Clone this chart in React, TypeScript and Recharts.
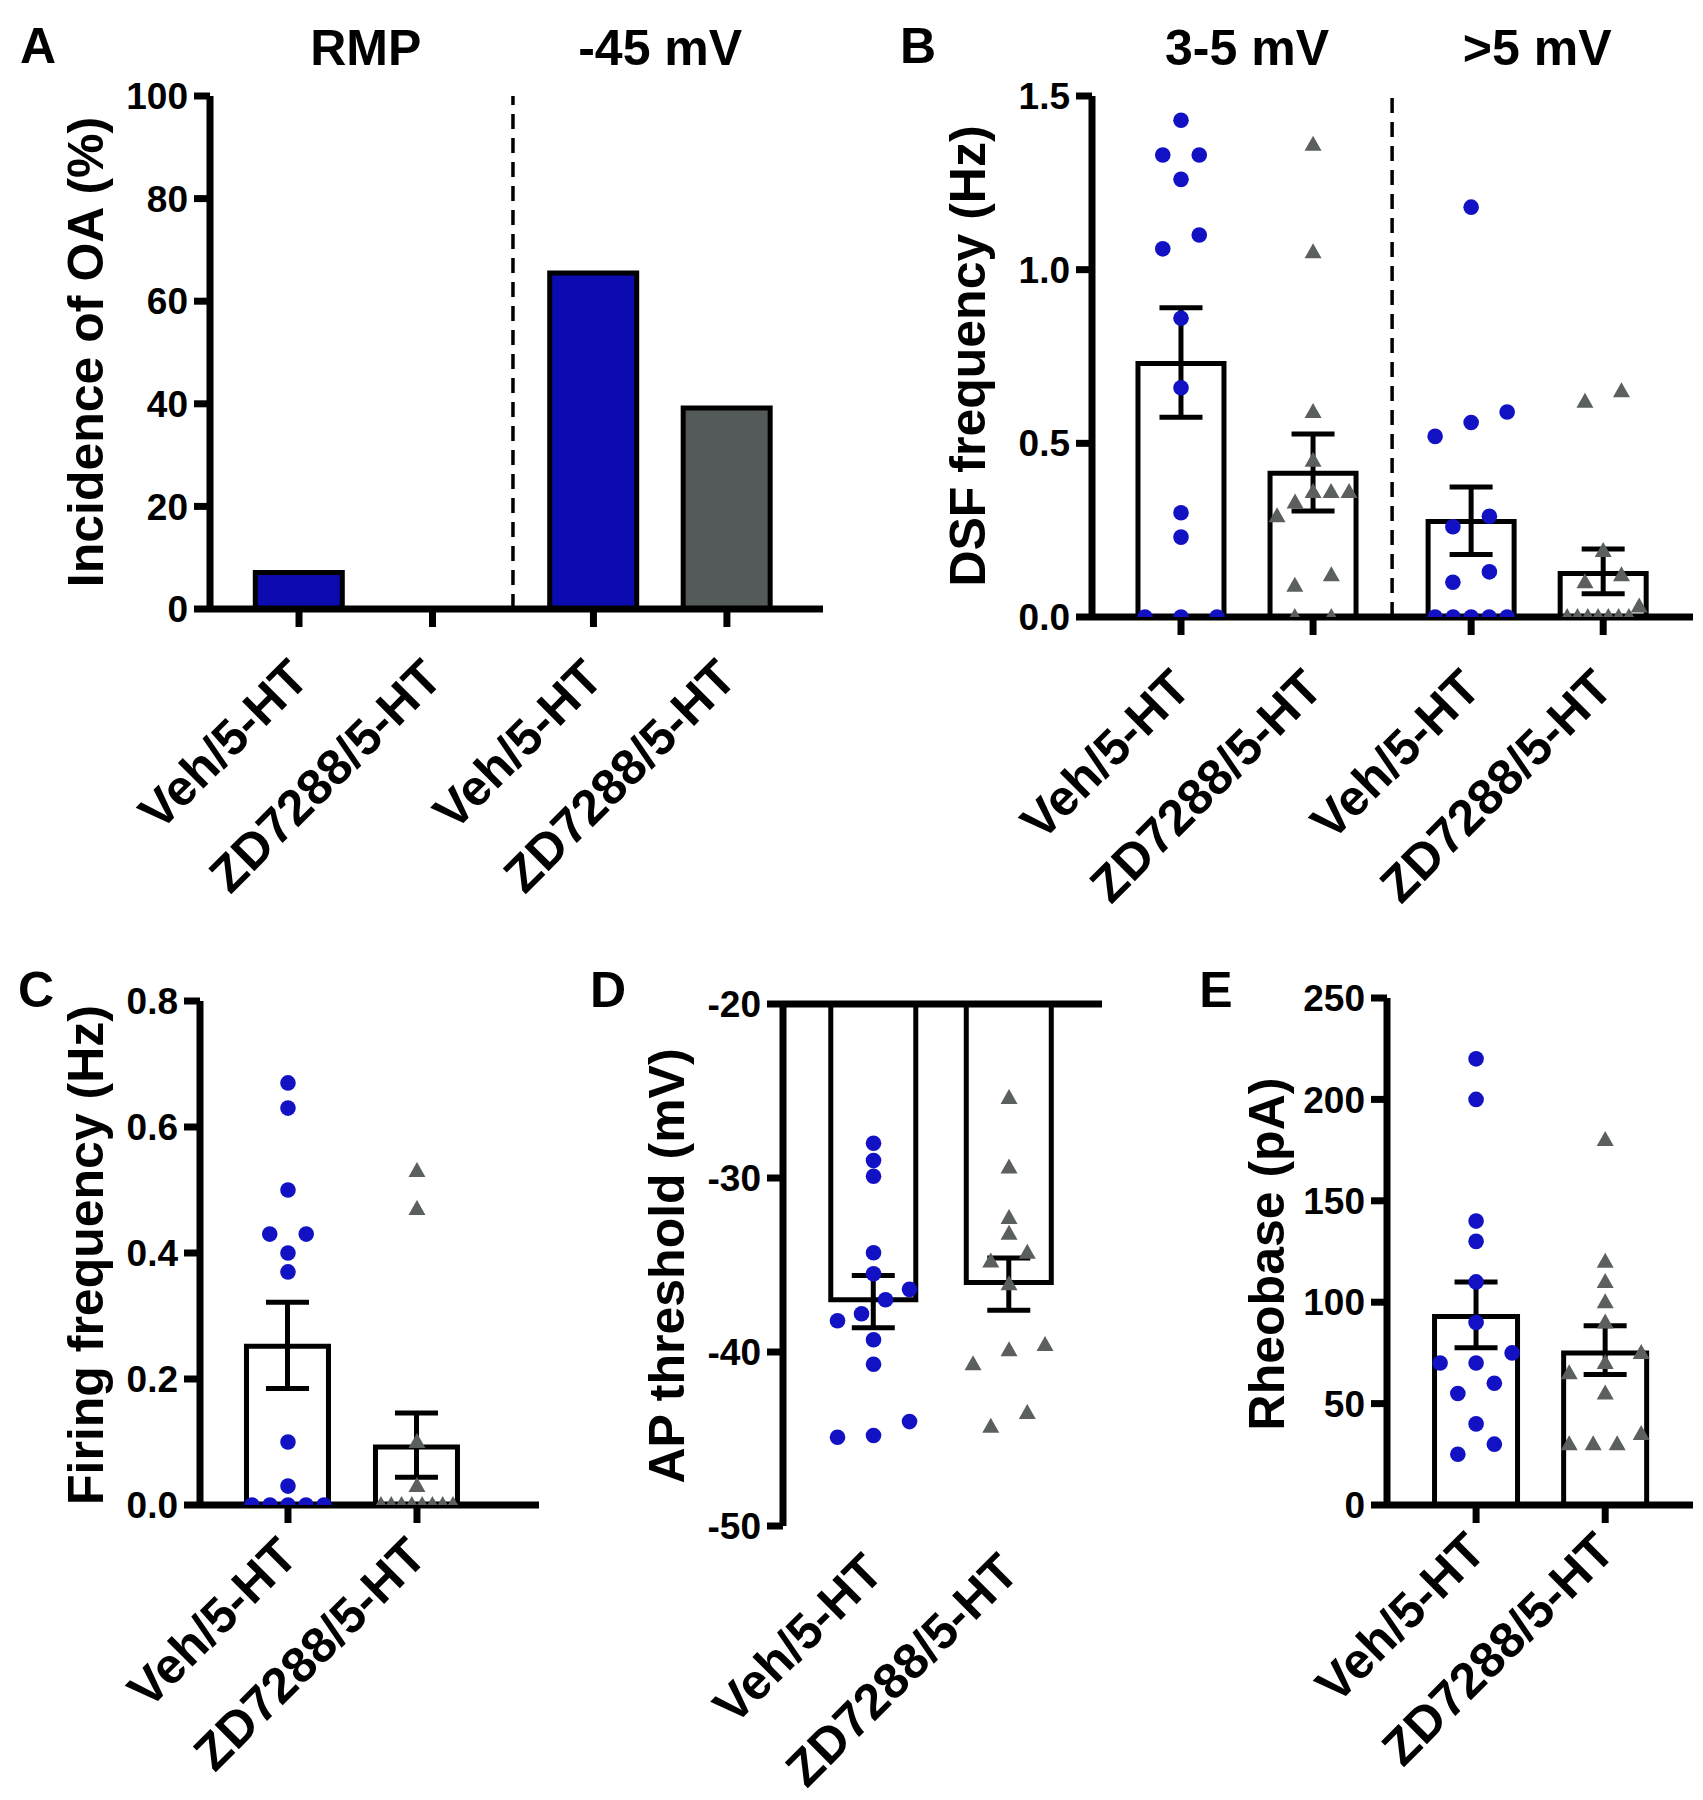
import React from 'react';
import { ComposedChart, Bar, Scatter, XAxis, YAxis, ErrorBar, ReferenceLine, Cell } from 'recharts';

// ---------------- data ----------------
const twoGroupLabels = ['Veh/5-HT', 'ZD7288/5-HT', 'Veh/5-HT', 'ZD7288/5-HT'];
const pairLabels = ['Veh/5-HT', 'ZD7288/5-HT'];
const fourGroupOf = [0, 0, 1, 1];
const pairGroupOf = [0, 0];

// Panel A
const aGroupTitles = ['RMP', '-45 mV'];
const aIncidence = [7.1, 0, 65.5, 39.2];

// Panel B
const bGroupTitles = ['3-5 mV', '>5 mV'];
const bMean = [0.73, 0.414, 0.275, 0.125];
const bErrLow = [0.575, 0.305, 0.18, 0.067];
const bErrHigh = [0.89, 0.527, 0.374, 0.196];
const bVeh35 = [1.43, 1.33, 1.33, 1.26, 1.1, 1.06, 0.86, 0.66, 0.3, 0.23, 0, 0, 0];
const bZd35 = [1.36, 1.05, 0.59, 0.45, 0.36, 0.36, 0.36, 0.33, 0.29, 0.12, 0.09, 0, 0];
const bVeh5 = [1.18, 0.59, 0.56, 0.52, 0.29, 0.26, 0.13, 0.1, 0, 0, 0, 0, 0];
const bZd5 = [0.65, 0.62, 0.19, 0.12, 0.1, 0.03, 0, 0, 0, 0, 0, 0, 0];

// Panel C
const cMean = [0.252, 0.092];
const cErrLow = [0.185, 0.044];
const cErrHigh = [0.322, 0.146];
const cVeh = [0.67, 0.63, 0.5, 0.43, 0.43, 0.4, 0.37, 0.1, 0.03, 0, 0, 0, 0, 0];
const cZd = [0.53, 0.47, 0.1, 0.03, 0, 0, 0, 0, 0, 0, 0, 0];

// Panel D
const dMean = [-37.0, -36.0];
const dErrLow = [-38.6, -37.6];
const dErrHigh = [-35.6, -34.6];
const dVeh = [-28.0, -29.0, -29.9, -34.3, -35.5, -36.4, -37.0, -37.8, -38.2, -39.3, -40.7, -44.0, -44.9, -44.8];
const dZd = [-25.4, -29.4, -32.3, -33.2, -34.3, -34.8, -36.1, -39.6, -39.9, -40.7, -43.5, -44.3];

// Panel E
const eMean = [93, 75];
const eErrLow = [77.6, 64.3];
const eErrHigh = [110, 88.4];
const eVeh = [220, 200, 140, 130, 110, 90, 75, 70, 70, 60, 55, 40, 30, 25];
const eZd = [180, 120, 110, 100, 90, 75, 70, 65, 55, 35, 30, 30, 30];

// ---------------- style / layout ----------------
const FONT = '"Liberation Sans", Arial, Helvetica, sans-serif';
const BLUE_BAR = '#0b0bb0';
const GRAY_BAR = '#535a59';
const BLUE_DOT = '#1212c4';
const GRAY_TRI = '#5b605f';
const AXIS = { stroke: '#000', strokeWidth: 7 };
const YW = 110;
const MT = 30;
const MR = 8;
const XH = 300;
const TICK_FONT = 37;
const TITLE_FONT = 50;
const SWARM_STEP = 36.5;
const SWARM_SPAN = 72;
const SWARM_GAP = 14;

type Layout = {
  left: number;
  top: number;
  w: number;
  h: number;
  xDomain: [number, number];
  barSize: number;
  gap: number;
  labelDy: number;
};

const LA: Layout = { left: 210, top: 96, w: 613, h: 513, xDomain: [-0.667, 3.926], barSize: 87, gap: 0.206, labelDy: 54 };
const LB: Layout = { left: 1092, top: 96, w: 601, h: 521, xDomain: [-0.674, 3.877], barSize: 86, gap: 0.197, labelDy: 56 };
const LC: Layout = { left: 200, top: 1001, w: 339, h: 504, xDomain: [-0.682, 1.946], barSize: 82, gap: 0, labelDy: 36 };
const LD: Layout = { left: 783, top: 1004, w: 319, h: 522, xDomain: [-0.668, 1.686], barSize: 85, gap: 0, labelDy: 31 };
const LE: Layout = { left: 1387, top: 998, w: 306, h: 507, xDomain: [-0.69, 1.68], barSize: 83, gap: 0, labelDy: 31 };

const positionsOf = (groupOf: number[], gap: number) => groupOf.map((g, i) => i + g * gap);
const pxX = (L: Layout, v: number) => L.left + ((v - L.xDomain[0]) / (L.xDomain[1] - L.xDomain[0])) * L.w;

function swarmOffsets(values: number[], pxPerUnit: number): number[] {
  const order = values.map((_, i) => i).sort((a, b) => values[a] - values[b]);
  const offsets = values.map(() => 0);
  let cluster: number[] = [];
  const flush = () => {
    const n = cluster.length;
    if (n > 1) {
      const step = Math.min(SWARM_STEP, SWARM_SPAN / (n - 1));
      cluster.forEach((k, j) => {
        offsets[k] = (j - (n - 1) / 2) * step;
      });
    }
    cluster = [];
  };
  order.forEach((k) => {
    if (cluster.length && (values[k] - values[cluster[cluster.length - 1]]) * pxPerUnit >= SWARM_GAP) flush();
    cluster.push(k);
  });
  flush();
  return offsets;
}

const dotShape = (p: any) => (
  <circle cx={p.cx + (p.payload?.off ?? 0)} cy={p.cy} r={7.8} fill={BLUE_DOT} />
);
const triShape = (p: any) => {
  const cx = p.cx + (p.payload?.off ?? 0);
  const cy = p.cy;
  return <polygon points={`${cx},${cy - 9} ${cx - 8.5},${cy + 6} ${cx + 8.5},${cy + 6}`} fill={GRAY_TRI} />;
};

const CatTick = (props: any) => {
  const { x, y, payload, labels, positions, dy } = props;
  const idx = positions.findIndex((p: number) => Math.abs(p - payload.value) < 1e-6);
  const ax = x + 12;
  const ay = y + dy;
  return (
    <text
      x={ax}
      y={ay}
      textAnchor="end"
      transform={`rotate(-45 ${ax} ${ay})`}
      style={{ fontSize: TITLE_FONT, fontWeight: 700, fill: '#000', fontFamily: FONT }}
    >
      {idx >= 0 ? labels[idx] : ''}
    </text>
  );
};

function Panel(props: {
  L: Layout;
  yDomain: [number, number];
  yTicks: number[];
  yFmt: (v: number) => string;
  labels: string[];
  groupOf: number[];
  means: number[];
  errLow?: number[];
  errHigh?: number[];
  fills?: string[];
  series: { values: number[]; idx: number; kind: 'dot' | 'tri' }[];
  dividers?: number[];
  topLine?: boolean;
}) {
  const { L, yDomain, yTicks, yFmt, labels, groupOf, means, errLow, errHigh, fills, series, dividers, topLine } = props;
  const positions = positionsOf(groupOf, L.gap);
  const rows = means.map((m, i) => ({
    x: positions[i],
    mean: m,
    err: errLow && errHigh ? [m - errLow[i], errHigh[i] - m] : undefined,
  }));
  const pxPerUnit = L.h / (yDomain[1] - yDomain[0]);
  const w = YW + L.w + MR;
  const h = MT + L.h + XH;
  return (
    <div style={{ position: 'absolute', left: L.left - YW, top: L.top - MT }}>
      <ComposedChart width={w} height={h} data={rows} margin={{ top: MT, right: MR, bottom: 0, left: 0 }} style={{ overflow: 'visible' }}>
        <XAxis
          type="number"
          dataKey="x"
          domain={L.xDomain}
          allowDataOverflow
          ticks={positions}
          interval={0}
          height={XH}
          axisLine={topLine ? false : AXIS}
          tickLine={topLine ? false : AXIS}
          tickSize={18}
          tickMargin={0}
          tick={<CatTick labels={labels} positions={positions} dy={L.labelDy} />}
        />
        <YAxis
          type="number"
          domain={yDomain}
          allowDataOverflow
          ticks={yTicks}
          interval={0}
          width={YW}
          axisLine={AXIS}
          tickLine={AXIS}
          tickSize={16}
          tickMargin={6}
          tickFormatter={yFmt}
          tick={{ fontSize: TICK_FONT, fontWeight: 700, fill: '#000', fontFamily: FONT }}
        />
        {(dividers || []).map((d) => (
          <ReferenceLine key={d} x={d} stroke="#000" strokeWidth={3.5} strokeDasharray="15 9" />
        ))}
        {topLine && <ReferenceLine y={yDomain[1]} stroke="#000" strokeWidth={7} />}
        <Bar dataKey="mean" barSize={L.barSize} stroke="#000" strokeWidth={5} fill="#fff" isAnimationActive={false}>
          {rows.map((_, i) => (
            <Cell key={i} fill={fills ? fills[i] : '#fff'} />
          ))}
          {errLow && <ErrorBar dataKey="err" width={21.5} strokeWidth={5} stroke="#000" direction="y" />}
        </Bar>
        {series.map((s, si) => {
          const offs = swarmOffsets(s.values, pxPerUnit);
          const data = s.values.map((v, i) => ({ x: positions[s.idx], y: v, off: offs[i] }));
          return (
            <Scatter
              key={si}
              data={data}
              dataKey="y"
              shape={s.kind === 'dot' ? dotShape : triShape}
              isAnimationActive={false}
            />
          );
        })}
      </ComposedChart>
    </div>
  );
}

const Txt = (p: { x: number; y: number; text: string; size?: number; rotate?: boolean }) => (
  <div
    style={{
      position: 'absolute',
      left: p.x,
      top: p.y,
      transform: `translate(-50%, -50%)${p.rotate ? ' rotate(-90deg)' : ''}`,
      whiteSpace: 'nowrap',
      fontSize: p.size ?? TITLE_FONT,
      fontWeight: 700,
      fontFamily: FONT,
      lineHeight: 1,
      color: '#000',
    }}
  >
    {p.text}
  </div>
);

const groupMid = (L: Layout, groupOf: number[], g: number) => {
  const pos = positionsOf(groupOf, L.gap).filter((_, i) => groupOf[i] === g);
  return pxX(L, (pos[0] + pos[pos.length - 1]) / 2);
};
const dividerOf = (L: Layout, groupOf: number[]) => {
  const pos = positionsOf(groupOf, L.gap);
  return [(pos[1] + pos[2]) / 2];
};

export default function App() {
  const f1 = (v: number) => v.toFixed(1);
  const f0 = (v: number) => String(v);
  return (
    <div style={{ position: 'absolute', left: 0, top: 0, width: 1703, height: 1800, background: '#fff', overflow: 'hidden' }}>
      {/* Panel A */}
      <Panel
        L={LA}
        yDomain={[0, 100]}
        yTicks={[0, 20, 40, 60, 80, 100]}
        yFmt={f0}
        labels={twoGroupLabels}
        groupOf={fourGroupOf}
        means={aIncidence}
        fills={[BLUE_BAR, GRAY_BAR, BLUE_BAR, GRAY_BAR]}
        series={[]}
        dividers={dividerOf(LA, fourGroupOf)}
      />
      {/* Panel B */}
      <Panel
        L={LB}
        yDomain={[0, 1.5]}
        yTicks={[0, 0.5, 1, 1.5]}
        yFmt={f1}
        labels={twoGroupLabels}
        groupOf={fourGroupOf}
        means={bMean}
        errLow={bErrLow}
        errHigh={bErrHigh}
        series={[
          { values: bVeh35, idx: 0, kind: 'dot' },
          { values: bZd35, idx: 1, kind: 'tri' },
          { values: bVeh5, idx: 2, kind: 'dot' },
          { values: bZd5, idx: 3, kind: 'tri' },
        ]}
        dividers={dividerOf(LB, fourGroupOf)}
      />
      {/* Panel C */}
      <Panel
        L={LC}
        yDomain={[0, 0.8]}
        yTicks={[0, 0.2, 0.4, 0.6, 0.8]}
        yFmt={f1}
        labels={pairLabels}
        groupOf={pairGroupOf}
        means={cMean}
        errLow={cErrLow}
        errHigh={cErrHigh}
        series={[
          { values: cVeh, idx: 0, kind: 'dot' },
          { values: cZd, idx: 1, kind: 'tri' },
        ]}
      />
      {/* Panel D */}
      <Panel
        L={LD}
        yDomain={[-50, -20]}
        yTicks={[-50, -40, -30, -20]}
        yFmt={f0}
        labels={pairLabels}
        groupOf={pairGroupOf}
        means={dMean}
        errLow={dErrLow}
        errHigh={dErrHigh}
        series={[
          { values: dVeh, idx: 0, kind: 'dot' },
          { values: dZd, idx: 1, kind: 'tri' },
        ]}
        topLine
      />
      {/* Panel E */}
      <Panel
        L={LE}
        yDomain={[0, 250]}
        yTicks={[0, 50, 100, 150, 200, 250]}
        yFmt={f0}
        labels={pairLabels}
        groupOf={pairGroupOf}
        means={eMean}
        errLow={eErrLow}
        errHigh={eErrHigh}
        series={[
          { values: eVeh, idx: 0, kind: 'dot' },
          { values: eZd, idx: 1, kind: 'tri' },
        ]}
      />

      {/* panel letters */}
      <Txt x={38} y={46} text="A" />
      <Txt x={918} y={46} text="B" />
      <Txt x={36} y={990} text="C" />
      <Txt x={608} y={990} text="D" />
      <Txt x={1216} y={990} text="E" />

      {/* group headers */}
      <Txt x={groupMid(LA, fourGroupOf, 0)} y={48} text={aGroupTitles[0]} />
      <Txt x={groupMid(LA, fourGroupOf, 1)} y={48} text={aGroupTitles[1]} />
      <Txt x={groupMid(LB, fourGroupOf, 0)} y={48} text={bGroupTitles[0]} />
      <Txt x={groupMid(LB, fourGroupOf, 1)} y={48} text={bGroupTitles[1]} />

      {/* y-axis titles */}
      <Txt x={86} y={352} text="Incidence of OA (%)" rotate />
      <Txt x={968} y={356} text="DSF frequency (Hz)" rotate />
      <Txt x={86} y={1255} text="Firing frequency (Hz)" rotate />
      <Txt x={667} y={1266} text="AP threshold (mV)" rotate />
      <Txt x={1267} y={1254} text="Rheobase (pA)" rotate />
    </div>
  );
}
